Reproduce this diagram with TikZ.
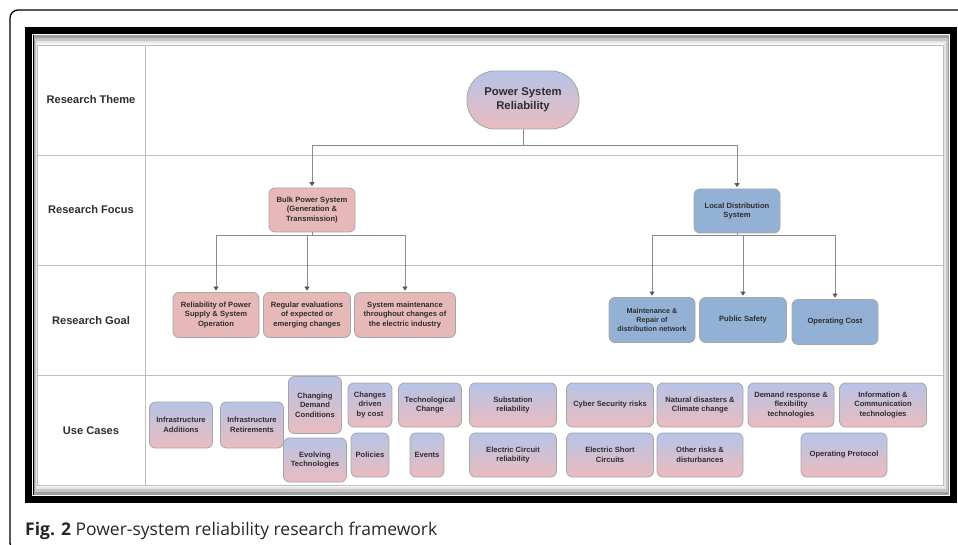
\documentclass[tikz,border=0pt]{standalone}
\usepackage{fontspec}
\setmainfont{Liberation Sans}
\newfontfamily\capfont{Open Sans}
\usetikzlibrary{arrows.meta, positioning, calc}
\definecolor{cText}{HTML}{2E2E2E}
\definecolor{cGrid}{HTML}{BDBDBD}
\definecolor{cLink}{HTML}{8C8C8C}
\definecolor{cTip}{HTML}{555555}
\definecolor{cEdge}{HTML}{A6A6A6}
\definecolor{cBulk}{HTML}{E6B9B8}
\definecolor{cLocal}{HTML}{93B1D5}
\definecolor{cTop}{HTML}{B7C3E7}
\definecolor{cBottom}{HTML}{EABCBE}
\tikzset{
	rowlabel/.style={font=\fontsize{11.1}{13}\selectfont\bfseries, text=cText, inner sep=1pt},
	boxbase/.style={rectangle, rounded corners=6pt, draw=cEdge, line width=0.8pt, align=center, text=cText, font=\fontsize{7.6}{9.5}\selectfont\bfseries, inner sep=1pt},
	bulkbox/.style={boxbase, fill=cBulk},
	localbox/.style={boxbase, fill=cLocal},
	casebox/.style={boxbase, top color=cTop, bottom color=cBottom},
	link/.style={draw=cLink, line width=0.8pt, shorten >=1.5pt, -{Triangle[length=4pt, width=5pt, color=cTip]}},
	% grid of the table
	gridline/.style={draw=cGrid, line width=0.8pt},
}
\begin{document}
\begin{tikzpicture}[x=1pt, y=-1pt]
	\useasboundingbox (0,0) rectangle (958,545);
	% page frame and black border
	\draw[line width=1.3pt, rounded corners=8pt] (10,10) rectangle (990,551);
	\fill[black] (25,27) rectangle (957,503);
	\draw[white, line width=0.8pt] (32.5,34.5) rectangle (949.5,495.5);
	\fill[gray!75] (33.5,35.5) rectangle (948.5,494.5);
	\fill[gray!45] (34.5,38) rectangle (947.5,492);
	\fill[gray!20] (35.5,41) rectangle (945.5,489);
	\fill[gray!6] (36.5,43) rectangle (944,487);
	\draw[gridline, fill=white] (37,45) rectangle (943,485);
	\foreach \yy in {155,265,375}
		\draw[gridline] (37,\yy) -- (943,\yy);
	\draw[gridline] (145,45) -- (145,485);
	\foreach \yy/\txt [count=\i] in {100/Research Theme, 210/Research Focus, 321/Research Goal, 431/Use Cases}
		\node[rowlabel] (row\i) at (91,\yy) {\txt};

	% theme and focus
	\node[casebox, rounded corners=28pt, minimum width=112pt, minimum height=58pt, font=\fontsize{11.3}{13.8}\selectfont\bfseries] (psr) at (523,100) {Power System\\Reliability};
	\node[bulkbox, minimum width=86pt, minimum height=44pt] (bulk) at (312,210) {Bulk Power System\\(Generation \&\\Transmission)};
	\node[localbox, minimum width=86pt, minimum height=44pt] (local) at (737,211) {Local Distribution\\System};

	% goals
	\node[bulkbox, minimum width=86pt, minimum height=45pt] (gsupply) at (216,315) {Reliability of Power\\Supply \& System\\Operation};
	\node[bulkbox, minimum width=87pt, minimum height=45pt] (geval) at (307,315) {Regular evaluations\\of expected or\\emerging changes};
	\node[bulkbox, minimum width=101pt, minimum height=45pt] (gmaint) at (405,315) {System maintenance\\throughout changes of\\the electric industry};
	\node[localbox, minimum width=86pt, minimum height=45pt, font=\fontsize{7.2}{9.3}\selectfont\bfseries] (grepair) at (652,320) {Maintenance \&\\Repair of\\distribution network};
	\node[localbox, minimum width=87pt, minimum height=45pt] (gsafety) at (743,320) {Public Safety};
	\node[localbox, minimum width=86pt, minimum height=45pt] (gcost) at (835,322) {Operating Cost};

	\draw[link] (psr.south) -- ++(0,16) -| (bulk.north);
	\draw[link] (psr.south) -- ++(0,16) -| (local.north);
	\foreach \g in {gsupply, geval, gmaint}
		\draw[link] (bulk.south) -- ++(0,3) -| (\g.north);
	\foreach \g in {grepair, gsafety, gcost}
		\draw[link] (local.south) -- ++(0,2) -| (\g.north);

	% use cases
	\foreach \cx/\cy/\w/\h/\nm/\txt in {
		181/425/63/46/uadd/{Infrastructure\\Additions},
		252/425/63/46/uret/{Infrastructure\\Retirements},
		315/405/53/57/udemand/{Changing\\Demand\\Conditions},
		315/460/63/44/uevolve/{Evolving\\Technologies},
		370/405/44/44/ucost/{Changes\\driven\\by cost},
		370/455/38/44/upolicy/{Policies},
		430/405/63/44/utech/{Technological\\Change},
		427/455/34/44/uevent/{Events},
		513/405/87/44/usub/{Substation\\reliability},
		513/455/87/44/ucircuit/{Electric Circuit\\reliability},
		610/405/87/44/ucyber/{Cyber Security risks},
		610/455/87/44/ushort/{Electric Short\\Circuits},
		700/405/86/44/unature/{Natural disasters \&\\Climate change},
		700/455/86/44/uother/{Other risks \&\\disturbances},
		791/405/86/44/udemresp/{Demand response \&\\flexibility\\technologies},
		883/405/87/44/uinfo/{Information \&\\Communication\\technologies},
		844/455/86/44/uprotocol/{Operating Protocol}}
		\node[casebox, minimum width=\w pt, minimum height=\h pt] (\nm) at (\cx,\cy) {\txt};

	\node[anchor=base west, font=\capfont\fontsize{17.5}{20}\selectfont, text=black!85, inner sep=0pt] (caption) at (25,535) {\textbf{Fig. 2} Power-system reliability research framework};
\end{tikzpicture}
\end{document}
